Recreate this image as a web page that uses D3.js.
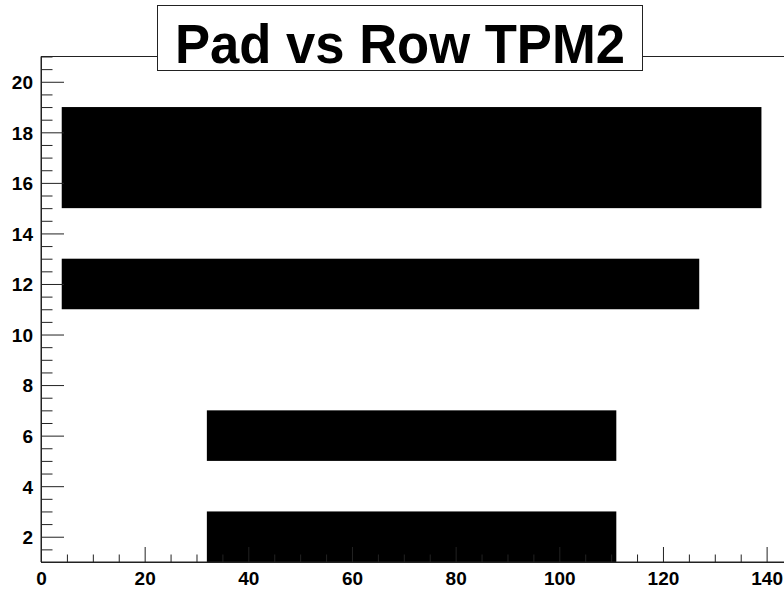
<!DOCTYPE html>
<html lang="en">
<head>
<meta charset="UTF-8">
<title>Pad vs Row TPM2</title>
<script src="https://d3js.org/d3.v7.min.js"></script>
<style>
  body { margin: 0; background: #fff; }
  svg { display: block; }
  .tick text { font-family: "Liberation Sans", Arial, sans-serif; font-weight: bold; font-size: 19px; fill: #000; }
  .domain, .tick line { stroke: #222; stroke-width: 1; }
</style>
</head>
<body>
<svg id="chart" width="784" height="590"></svg>
<script>
// occupied pad/row regions (filled scatter blocks)
const padStart = [4, 4, 32, 32];
const padEnd   = [139, 127, 111, 111];
const rowStart = [15, 11, 5, 1];
const rowEnd   = [19, 13, 7, 3];

const xMajor = [0, 20, 40, 60, 80, 100, 120, 140];
const yMajor = [2, 4, 6, 8, 10, 12, 14, 16, 18, 20];
const titleText = "Pad vs Row TPM2";

const svg = d3.select("#chart");
const frameLeft = 41, frameBottom = 562, frameTop = 56.5;

const x = d3.scaleLinear().domain([0, 150]).range([frameLeft, frameLeft + 150 * 5.183]);
const y = d3.scaleLinear().domain([1, 21]).range([frameBottom, frameTop]);

// frame top line
svg.append("line")
  .attr("x1", frameLeft).attr("x2", 784)
  .attr("y1", frameTop).attr("y2", frameTop)
  .attr("stroke", "#222");

// data blocks
svg.append("g").selectAll("rect")
  .data(padStart.map((d, i) => ({p0: d, p1: padEnd[i], r0: rowStart[i], r1: rowEnd[i]})))
  .join("rect")
  .attr("x", d => x(d.p0))
  .attr("width", d => x(d.p1) - x(d.p0))
  .attr("y", d => y(d.r1))
  .attr("height", d => y(d.r0) - y(d.r1))
  .attr("fill", "#000");

// minor ticks
const xMinor = d3.range(0, 146, 5).filter(v => v % 20 !== 0);
const yMinor = d3.range(1, 21.01, 0.5).filter(v => v % 2 !== 0);

svg.append("g")
  .attr("transform", `translate(0,${frameBottom})`)
  .call(d3.axisBottom(x).tickValues(xMinor).tickSize(-7.5).tickSizeOuter(0).tickFormat(""));
svg.append("g")
  .attr("transform", `translate(${frameLeft},0)`)
  .call(d3.axisLeft(y).tickValues(yMinor).tickSize(-11.5).tickSizeOuter(0).tickFormat(""));

// major ticks + labels
const xAxis = svg.append("g")
  .attr("transform", `translate(0,${frameBottom})`)
  .call(d3.axisBottom(x).tickValues(xMajor).tickSize(-15).tickSizeOuter(0).tickPadding(0));
xAxis.selectAll("text").attr("y", 23).attr("dy", 0);
xAxis.select(".domain").remove();

const yAxis = svg.append("g")
  .attr("transform", `translate(${frameLeft},0)`)
  .call(d3.axisLeft(y).tickValues(yMajor).tickSize(-23).tickSizeOuter(0));
yAxis.selectAll("text").attr("x", -8).attr("dy", "0.36em");
yAxis.select(".domain").remove();

// axis lines on top
svg.append("line").attr("x1", frameLeft).attr("x2", 784).attr("y1", frameBottom).attr("y2", frameBottom).attr("stroke", "#222");
svg.append("line").attr("x1", frameLeft).attr("x2", frameLeft).attr("y1", frameTop).attr("y2", frameBottom).attr("stroke", "#222");

// title box
svg.append("rect")
  .attr("x", 157.5).attr("y", 5.5)
  .attr("width", 485).attr("height", 65)
  .attr("fill", "#fff").attr("stroke", "#222");
svg.append("text")
  .attr("x", 400).attr("y", 63)
  .attr("text-anchor", "middle")
  .attr("textLength", 450)
  .attr("lengthAdjust", "spacingAndGlyphs")
  .style("font-family", "'Liberation Sans', Arial, sans-serif")
  .style("font-weight", "bold")
  .style("font-size", "56px")
  .text(titleText);
</script>
</body>
</html>
